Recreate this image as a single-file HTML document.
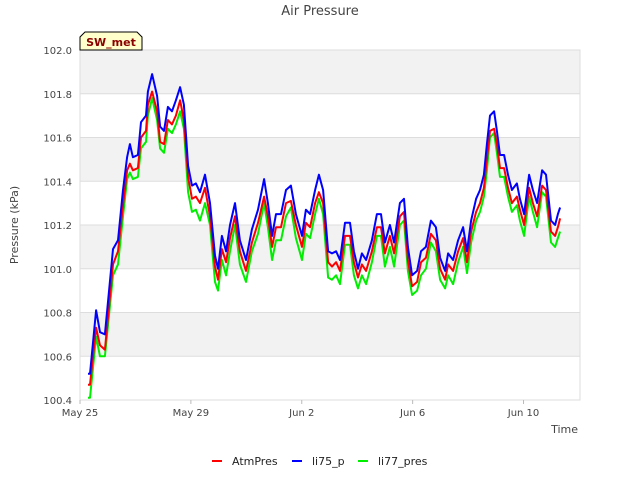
<!DOCTYPE html>
<html><head><meta charset="utf-8"><style>
body{margin:0;background:#fff;width:640px;height:480px;overflow:hidden;font-family:"DejaVu Sans","Liberation Sans",sans-serif}
</style></head><body>
<svg id="chart" width="640" height="480" viewBox="0 0 640 480" xmlns="http://www.w3.org/2000/svg">
<text x="320" y="15" text-anchor="middle" font-size="13" fill="#444">Air Pressure</text>
<g id="bands"></g>
<g id="grid"></g>
<g id="yticks"></g>
<g id="xticks"></g>
<text transform="translate(18,225) rotate(-90)" text-anchor="middle" font-size="11" fill="#444">Pressure (kPa)</text>
<text x="578" y="433" text-anchor="end" font-size="11" fill="#444">Time</text>
<g id="series"></g>
<g>
<path d="M80,50 L80,37 L85,32 L137,32 L142,37 L142,50 Z" fill="#ffffcc" stroke="#000" stroke-width="1"/>
<text x="111" y="46" text-anchor="middle" font-size="11" font-weight="bold" fill="#8b0000">SW_met</text>
</g>
<g id="legend"></g>
</svg>
<script>
const times=[0.29,0.36,0.58,0.72,0.90,1.19,1.37,1.55,1.70,1.80,1.91,2.09,2.20,2.38,2.45,2.60,2.78,2.89,3.03,3.17,3.32,3.46,3.61,3.75,3.90,4.04,4.18,4.33,4.51,4.69,4.87,4.98,5.12,5.27,5.41,5.59,5.77,5.99,6.20,6.42,6.64,6.78,6.93,7.07,7.25,7.43,7.61,7.79,8.01,8.15,8.30,8.48,8.62,8.77,8.95,9.09,9.24,9.38,9.56,9.74,9.88,10.03,10.17,10.32,10.53,10.71,10.86,11.00,11.18,11.33,11.54,11.69,11.83,11.98,12.16,12.30,12.48,12.66,12.84,12.99,13.17,13.28,13.46,13.64,13.82,13.96,14.11,14.29,14.43,14.57,14.68,14.79,14.94,15.04,15.15,15.30,15.44,15.58,15.76,15.87,16.02,16.20,16.34,16.49,16.67,16.81,16.99,17.14,17.24,17.32];
const li75=[100.52,100.52,100.81,100.71,100.70,101.09,101.13,101.36,101.51,101.57,101.51,101.52,101.67,101.70,101.81,101.89,101.79,101.65,101.63,101.74,101.72,101.77,101.83,101.75,101.47,101.38,101.39,101.35,101.43,101.30,101.06,101.00,101.15,101.08,101.20,101.30,101.13,101.04,101.18,101.27,101.41,101.30,101.15,101.25,101.25,101.36,101.38,101.25,101.15,101.27,101.25,101.36,101.43,101.36,101.08,101.07,101.08,101.04,101.21,101.21,101.08,101.00,101.07,101.04,101.13,101.25,101.25,101.12,101.20,101.12,101.30,101.32,101.10,100.97,100.99,101.08,101.10,101.22,101.19,101.05,100.99,101.07,101.04,101.13,101.19,101.08,101.22,101.32,101.36,101.43,101.57,101.70,101.72,101.63,101.52,101.52,101.43,101.36,101.39,101.32,101.25,101.43,101.36,101.30,101.45,101.43,101.22,101.20,101.25,101.28];
const atm=[100.47,100.47,100.73,100.65,100.63,101.02,101.08,101.29,101.45,101.48,101.45,101.46,101.60,101.63,101.75,101.81,101.72,101.58,101.57,101.68,101.66,101.70,101.77,101.68,101.42,101.32,101.33,101.30,101.37,101.24,101.01,100.95,101.09,101.03,101.14,101.24,101.08,100.99,101.12,101.21,101.33,101.24,101.10,101.19,101.19,101.30,101.31,101.20,101.10,101.21,101.19,101.30,101.35,101.30,101.03,101.01,101.03,100.99,101.15,101.15,101.03,100.96,101.02,100.99,101.08,101.19,101.19,101.07,101.15,101.07,101.24,101.26,101.04,100.92,100.94,101.03,101.05,101.16,101.13,101.00,100.95,101.02,100.99,101.08,101.14,101.03,101.17,101.26,101.30,101.37,101.50,101.63,101.64,101.57,101.46,101.46,101.37,101.30,101.33,101.27,101.20,101.37,101.30,101.24,101.38,101.36,101.17,101.15,101.19,101.23];
const li77=[100.41,100.41,100.69,100.60,100.60,100.97,101.02,101.24,101.41,101.44,101.41,101.42,101.55,101.58,101.70,101.78,101.68,101.55,101.53,101.64,101.62,101.66,101.72,101.64,101.35,101.26,101.27,101.22,101.30,101.20,100.94,100.90,101.04,100.97,101.08,101.20,101.02,100.94,101.08,101.16,101.30,101.19,101.04,101.13,101.13,101.24,101.28,101.14,101.04,101.16,101.14,101.25,101.32,101.25,100.96,100.95,100.97,100.93,101.11,101.11,100.97,100.91,100.97,100.93,101.03,101.15,101.15,101.01,101.10,101.01,101.20,101.22,100.99,100.88,100.90,100.97,101.00,101.12,101.08,100.95,100.91,100.97,100.93,101.03,101.10,100.98,101.12,101.22,101.26,101.33,101.45,101.60,101.62,101.53,101.42,101.42,101.33,101.26,101.29,101.22,101.15,101.33,101.26,101.19,101.35,101.33,101.12,101.10,101.14,101.17];
const yTicks=[100.4,100.6,100.8,101.0,101.2,101.4,101.6,101.8,102.0];
const xTickDays=[0,4,8,12,16];
const xTickLabels=["May 25","May 29","Jun 2","Jun 6","Jun 10"];
const seriesNames=["AtmPres","li75_p","li77_pres"];

const NS="http://www.w3.org/2000/svg";
const L=80,R=580,T=50,B=400,yMin=100.4,yMax=102.0,dayPx=27.72;
const X=d=>L+d*dayPx;
const Y=v=>B-(v-yMin)/(yMax-yMin)*(B-T);
function mk(tag,attrs,parent){const e=document.createElementNS(NS,tag);for(const k in attrs)e.setAttribute(k,attrs[k]);parent.appendChild(e);return e;}
const bands=document.getElementById('bands'),grid=document.getElementById('grid'),yt=document.getElementById('yticks'),xt=document.getElementById('xticks');
mk('rect',{x:L,y:T,width:R-L,height:B-T,fill:'#fff'},bands);
for(let i=0;i<yTicks.length-1;i++){
  if(i%2===1){const r=mk('rect',{x:L,y:Y(yTicks[i+1]),width:R-L,height:Y(yTicks[i])-Y(yTicks[i+1]),fill:'#f2f2f2'},bands);
  
  }
}
yTicks.forEach(v=>{
  const g=mk('line',{x1:L,x2:R,y1:Y(v),y2:Y(v),stroke:'#ddd','stroke-width':1},grid);
  
  
  const t=mk('text',{x:L-8,y:Y(v)+4,'text-anchor':'end','font-size':10,fill:'#444'},yt);
  t.textContent=v.toFixed(1);
  
  
});
mk('rect',{x:L,y:T,width:R-L,height:B-T,fill:'none',stroke:'#ddd'},grid);
xTickDays.forEach((d,i)=>{
  mk('line',{x1:X(d),x2:X(d),y1:B,y2:B+4,stroke:'#bbb'},xt);
  const t=mk('text',{x:X(d),y:B+16,'text-anchor':'middle','font-size':10,fill:'#444'},xt);
  t.textContent=xTickLabels[i];
  
  
});
const ser=document.getElementById('series');
const data=[[atm,'#ff0000'],[li75,'#0000ff'],[li77,'#00ee00']];
const order=[2,0,1];
order.forEach(i=>{
  const [vals,col]=data[i];
  const d=vals.map((v,j)=>(j?'L':'M')+X(times[j]).toFixed(1)+','+Y(v).toFixed(1)).join(' ');
  const p=mk('path',{d:d,fill:'none',stroke:col,'stroke-width':2,'stroke-linejoin':'round'},ser);
  
  
});
const leg=document.getElementById('legend');
const lx=[212,292,358];
data.forEach(([v,col],i)=>{
  mk('line',{x1:lx[i],x2:lx[i]+10,y1:461,y2:461,stroke:col,'stroke-width':2},leg);
  const t=mk('text',{x:lx[i]+20,y:465,'font-size':11,fill:'#222'},leg);
  t.textContent=seriesNames[i];
  
  
});
</script>
</body></html>
